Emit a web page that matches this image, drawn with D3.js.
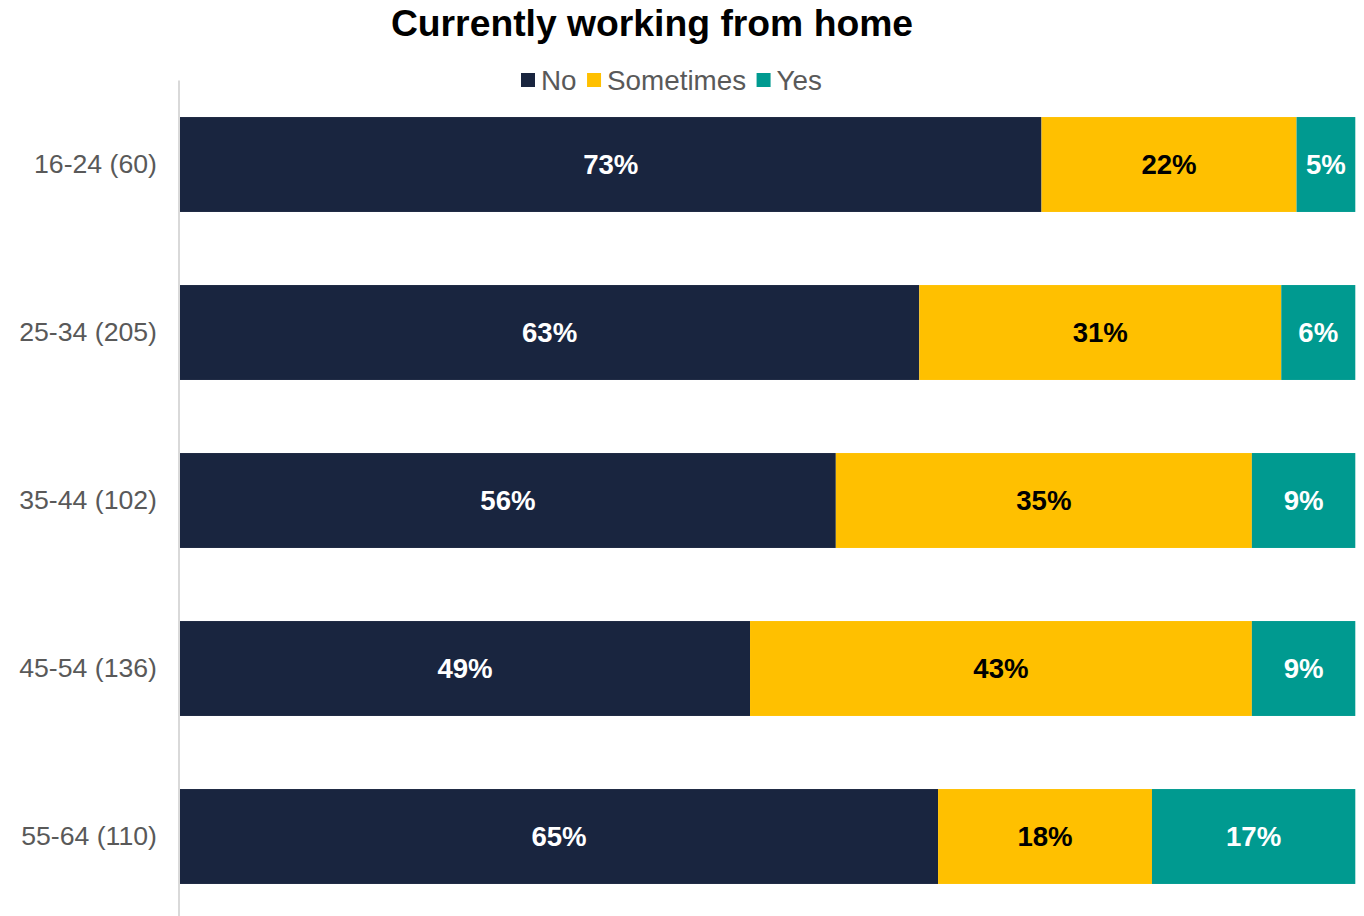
<!DOCTYPE html>
<html>
<head>
<meta charset="utf-8">
<script src="https://cdn.jsdelivr.net/npm/d3@7"></script>
<style>
  html, body { margin: 0; padding: 0; background: #fff; }
  svg { display: block; font-family: "Liberation Sans", Arial, sans-serif; }
</style>
</head>
<body>
<svg id="chart" width="1364" height="916"></svg>
<script>
// Age groups (with sample sizes) and the share answering each option, in %
const categories = ["16-24 (60)", "25-34 (205)", "35-44 (102)", "45-54 (136)", "55-64 (110)"];
const seriesNames = ["No", "Sometimes", "Yes"];
const noValues = [73.3, 62.9, 55.8, 48.5, 64.5];
const sometimesValues = [21.7, 30.8, 35.4, 42.7, 18.2];
const yesValues = [5.0, 6.3, 8.8, 8.8, 17.3];
const seriesColors = ["#19253F", "#FFC000", "#009A90"];
const labelColors = ["#FFFFFF", "#000000", "#FFFFFF"];

const width = 1364, height = 916;
const margin = { left: 180, right: 8.7, top: 80.5, bottom: -4.5 };

const rows = categories.map((c, i) => ({
  category: c,
  No: noValues[i],
  Sometimes: sometimesValues[i],
  Yes: yesValues[i]
}));

// 100% stacking: each row is scaled by its own total
const stacked = d3.stack().keys(seriesNames).offset(d3.stackOffsetExpand)(rows);

const svg = d3.select("#chart");

const x = d3.scaleLinear().domain([0, 1]).range([margin.left, width - margin.right]);
const y = d3.scaleBand()
  .domain(categories)
  .range([margin.top, height - margin.bottom])
  .paddingInner(0.435)
  .paddingOuter(0.2175);

// Title
svg.append("text")
  .attr("x", 652)
  .attr("y", 36)
  .attr("text-anchor", "middle")
  .attr("font-size", 37.3)
  .attr("font-weight", "bold")
  .attr("fill", "#000")
  .text("Currently working from home");

// Legend
const legend = svg.append("g");
let lx = 521;
seriesNames.forEach((name, i) => {
  legend.append("rect")
    .attr("x", lx).attr("y", 73)
    .attr("width", 14).attr("height", 14)
    .attr("fill", seriesColors[i]);
  const t = legend.append("text")
    .attr("x", lx + 20)
    .attr("y", 89.5)
    .attr("font-size", 27.8)
    .attr("fill", "#595959")
    .text(name);
  lx += 20 + t.node().getComputedTextLength() + 10.5;
});

// Bars
const layers = svg.append("g").selectAll("g")
  .data(stacked)
  .join("g")
  .attr("fill", (d, i) => seriesColors[i]);

layers.selectAll("rect")
  .data(d => d)
  .join("rect")
  .attr("x", d => x(d[0]))
  .attr("y", d => y(d.data.category))
  .attr("width", d => x(d[1]) - x(d[0]))
  .attr("height", y.bandwidth());

// Value labels, rounded to whole percents
stacked.forEach((layer, i) => {
  svg.append("g").selectAll("text")
    .data(layer)
    .join("text")
    .attr("x", d => (x(d[0]) + x(d[1])) / 2)
    .attr("y", d => y(d.data.category) + y.bandwidth() / 2)
    .attr("dy", "0.35em")
    .attr("text-anchor", "middle")
    .attr("font-size", 27.6)
    .attr("font-weight", "bold")
    .attr("fill", labelColors[i])
    .text(d => Math.round(d.data[layer.key]) + "%");
});

// Category axis
const yAxis = svg.append("g")
  .attr("transform", `translate(${margin.left - 1},0)`)
  .call(d3.axisLeft(y).tickSize(0).tickPadding(22));
yAxis.select(".domain")
  .attr("stroke", "#D9D9D9")
  .attr("stroke-width", 2)
  .attr("d", `M0,${margin.top}V${height}`);
yAxis.selectAll(".tick text")
  .attr("font-family", "Liberation Sans, Arial, sans-serif")
  .attr("font-size", 26.67)
  .attr("fill", "#595959");
</script>
</body>
</html>
